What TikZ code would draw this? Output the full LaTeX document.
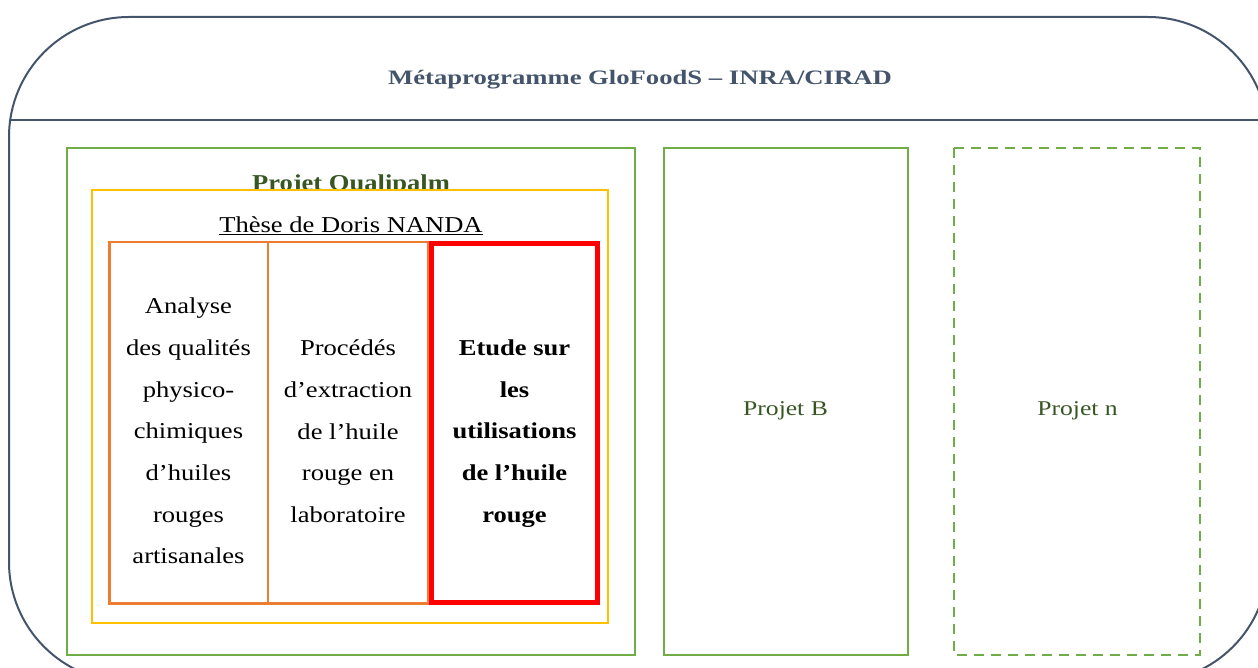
\documentclass[tikz,border=0pt]{standalone}
\usepackage{fontspec}
\setmainfont{Liberation Serif}
\definecolor{slate}{HTML}{44546A}
\definecolor{leaf}{HTML}{70AD47}
\definecolor{darkleaf}{HTML}{375623}
\definecolor{gold}{HTML}{FFC000}
\definecolor{tangerine}{HTML}{ED7D31}
\tikzset{
    bodytext/.style={xscale=1.17, inner sep=0pt, align=center,
        font=\fontsize{22.7}{41.7}\selectfont},
    projtext/.style={xscale=1.22, inner sep=0pt, anchor=base, text=darkleaf,
        font=\fontsize{21}{25}\selectfont},
    greenbox/.style={draw=leaf, line width=2pt},
}
\begin{document}
\begin{tikzpicture}[x=1pt,y=-1pt,line join=miter]
    \useasboundingbox (0,0) rectangle (1258,668);
    \clip (0,0) rectangle (1258,668);

    % draw the outer frame and its header
    \draw[slate, line width=2pt, rounded corners=120pt] (9,17) rectangle (1268,682);
    \draw[slate, line width=1.6pt] (10,120) -- (1262,120);
    \node[xscale=1.3, anchor=base, inner sep=0pt, text=slate,
        font=\fontsize{20.5}{24}\selectfont\bfseries] (title) at (640,85)
        {Métaprogramme GloFoodS – INRA/CIRAD};

    % the Qualipalm project
    \draw[greenbox] (67,148) rectangle (635,655);
    \node[xscale=1.17, anchor=base, inner sep=0pt, text=darkleaf,
        font=\fontsize{22.7}{26}\selectfont\bfseries] (qualipalm) at (351,190.5)
        {Projet Qualipalm};

    % the thesis box, drawn over the project title
    \draw[gold, line width=2pt, fill=white] (92,190) rectangle (608,623);
    \node[bodytext, anchor=base] (these) at (351,233) {\underline{Thèse de Doris NANDA}};

    % the three parts of the thesis
    \draw[tangerine, line width=2.5pt] (109.5,242) rectangle (268,603.5);
    \draw[tangerine, line width=2.5pt] (268,242) rectangle (428,603.5);
    \draw[red, line width=5pt] (431.5,243.5) rectangle (597.5,602.5);

    \node[bodytext] (analyse) at (188.5,431)
        {Analyse\\des qualités\\physico-\\chimiques\\d’huiles\\rouges\\artisanales};
    \node[bodytext] (procedes) at (348,431.5)
        {Procédés\\d’extraction\\de l’huile\\rouge en\\laboratoire};
    \node[bodytext, font=\fontsize{22.7}{41.7}\selectfont\bfseries] (etude) at (514.5,433.5)
        {Etude sur\\les\\utilisations\\de l’huile\\rouge};

    % the other projects
    \draw[greenbox] (663.5,148) rectangle (908,655);
    \draw[greenbox, dash pattern=on 10pt off 7pt] (954,148) rectangle (1200,655);
    \node[projtext] (projetB) at (785.5,415) {Projet B};
    \node[projtext] (projetN) at (1077.5,415) {Projet n};
\end{tikzpicture}
\end{document}
